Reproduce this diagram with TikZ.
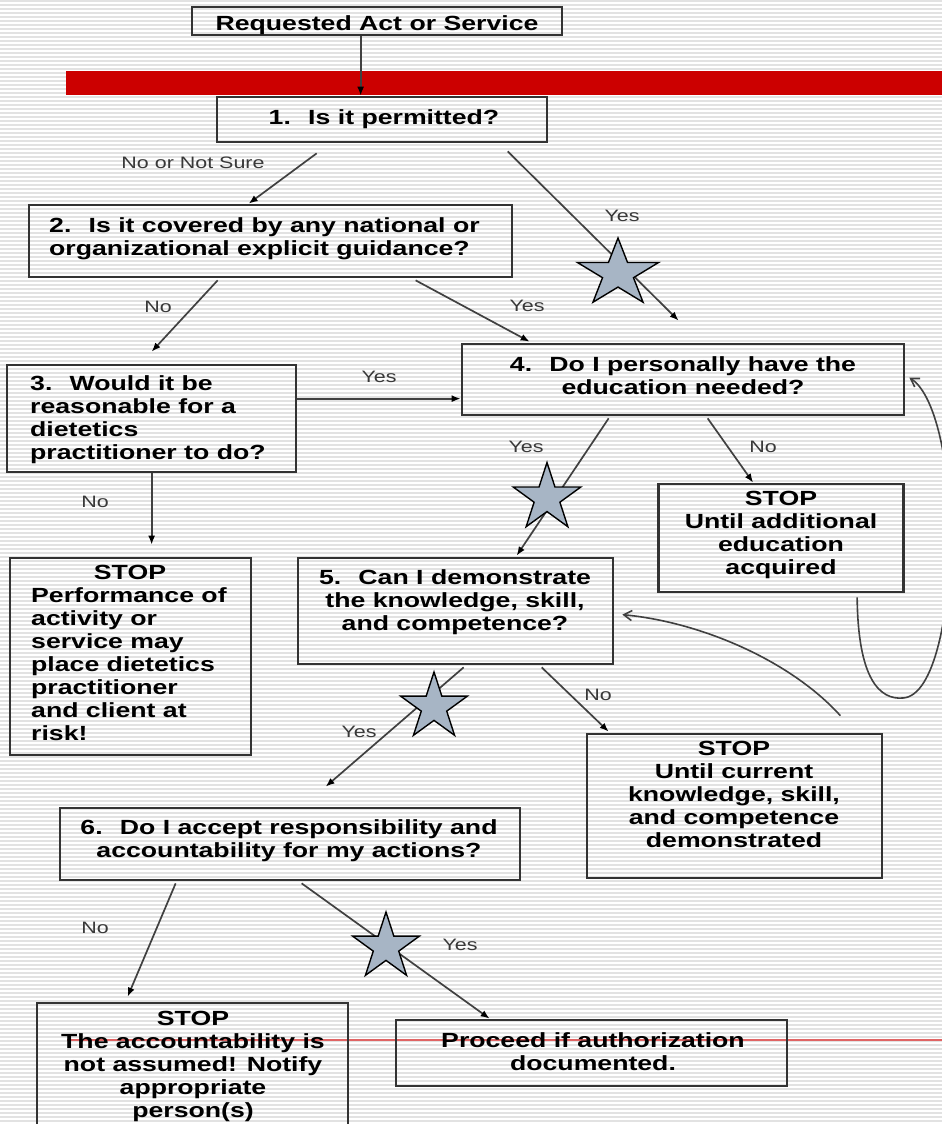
\documentclass[tikz,border=0pt]{standalone}
\usepackage{fontspec}
\setmainfont{Liberation Sans}[FakeStretch=1.3]
\usetikzlibrary{arrows.meta,shapes.geometric,calc}
\definecolor{barred}{RGB}{204,0,0}
\definecolor{linered}{RGB}{224,100,100}
\definecolor{starfill}{RGB}{167,181,197}
\definecolor{stripe}{RGB}{226,226,226}
\begin{document}
\begin{tikzpicture}[x=1pt,y=-1pt,
  box/.style={draw=black!80, line width=2.7pt, inner sep=0pt},
  txt/.style={font=\fontsize{20.5}{23}\selectfont\bfseries, inner sep=0pt, align=center, text=black},
  txtl/.style={txt, align=left},
  lbl/.style={font=\fontsize{16.5}{19}\selectfont, inner sep=0pt, text=black!78},
  arr/.style={draw=black!75, line width=1.7pt, -{Latex[length=9pt,width=7pt,color=black]}},
  curv/.style={draw=black!75, line width=1.6pt, -{Straight Barb[length=8pt,width=10pt]}},
  starn/.style={star, star points=5, star point ratio=2.618, draw=black, fill=starfill, line width=1.4pt, inner sep=0pt}
]
\useasboundingbox (0,0) rectangle (942,1124);
\begin{scope}
\clip (0,0) rectangle (942,1124);
\fill[white] (0,0) rectangle (942,1124);
\foreach \yy in {1,5,...,1124} \draw[stripe, line width=1.6pt] (0,\yy) -- (942,\yy);
\fill[barred] (66,71) rectangle (942,95);
\draw[linered, line width=1.8pt] (67,1040) -- (942,1040);

% boxes
\node[box, minimum width=370, minimum height=28] (b0) at (377,21) {};
\node[box, minimum width=330, minimum height=45] (b1) at (382,119.5) {};
\node[box, minimum width=483, minimum height=72] (b2) at (270.5,241) {};
\node[box, minimum width=289, minimum height=107] (b3) at (151.5,418.5) {};
\node[box, minimum width=442, minimum height=71] (b4) at (683,379.5) {};
\node[box, minimum width=241, minimum height=197] (s1) at (130.5,656.5) {};
\node[box, minimum width=245, minimum height=108] (s2) at (781,538) {};
\node[box, minimum width=315, minimum height=106] (b5) at (455.5,611) {};
\node[box, minimum width=295, minimum height=144] (s3) at (734.5,806) {};
\node[box, minimum width=460, minimum height=72] (b6) at (290,844) {};
\node[box, minimum width=311, minimum height=132] (s4) at (192.5,1069) {};
\node[box, minimum width=391, minimum height=66] (b7) at (591.5,1053) {};

% texts
\node[txt, anchor=north] (t0) at (377,15) {Requested Act or Service};
\node[txt, anchor=north] (t1) at (384,109.5) {1.~ Is it permitted?};
\node[txtl, anchor=north west] (t2) at (49,217.5) {2.~ Is it covered by any national or\\organizational explicit guidance?};
\node[txtl, anchor=north west] (t3) at (30,375.5) {3.~ Would it be\\reasonable for a\\dietetics\\practitioner to do?};
\node[txt, anchor=north] (t4) at (683,356.5) {4.~ Do I personally have the\\education needed?};
\node[txt, anchor=north] (t5a) at (130,564.5) {STOP};
\node[txtl, anchor=north west] (t5b) at (31,587.5) {Performance of\\activity or\\service may\\place dietetics\\practitioner\\and client at\\risk!};
\node[txt, anchor=north] (t6) at (781,490.5) {STOP\\Until additional\\education\\acquired};
\node[txt, anchor=north] (t7) at (455,569.5) {5.~ Can I demonstrate\\the knowledge, skill,\\and competence?};
\node[txt, anchor=north] (t8) at (734,740.5) {STOP\\Until current\\knowledge, skill,\\and competence\\demonstrated};
\node[txt, anchor=north] (t9) at (289,819.5) {6.~ Do I accept responsibility and\\accountability for my actions?};
\node[txt, anchor=north] (t10) at (193,1010.5) {STOP\\The accountability is\\not assumed! Notify\\appropriate\\person(s)};
\node[txt, anchor=north] (t11) at (593,1032.5) {Proceed if authorization\\documented.};

% labels
\node[lbl] (l1) at (193,163) {No or Not Sure};
\node[lbl] (l2) at (622,216) {Yes};
\node[lbl] (l3) at (158,307) {No};
\node[lbl] (l4) at (527,306) {Yes};
\node[lbl] (l5) at (379,377) {Yes};
\node[lbl] (l6) at (526,447) {Yes};
\node[lbl] (l7) at (763,447) {No};
\node[lbl] (l8) at (95,502) {No};
\node[lbl] (l9) at (598,695) {No};
\node[lbl] (l10) at (359,732) {Yes};
\node[lbl] (l11) at (95,928) {No};
\node[lbl] (l12) at (460,945) {Yes};

% connectors
\draw[arr] ([xshift=170pt]b0.south west) -- ([xshift=145pt]b1.north west);
\draw[arr] ([shift={(101,10)}]b1.south west) -- ([shift={(221,0)}]b2.north west);
\draw[arr] ([shift={(292,8)}]b1.south west) -- ([shift={(218,-22)}]b4.north west);
\draw[arr] ([shift={(190,2)}]b2.south west) -- ([shift={(146,-12)}]b3.north west);
\draw[arr] ([shift={(388,2)}]b2.south west) -- ([shift={(69,-1)}]b4.north west);
\draw[arr] ([shift={(0,35)}]b3.north east) -- ([shift={(0,56)}]b4.north west);
\draw[arr] ([shift={(146,0)}]b3.south west) -- ([shift={(143,-12)}]s1.north west);
\draw[arr] ([shift={(148,2)}]b4.south west) -- ([shift={(220,-1)}]b5.north west);
\draw[arr] ([shift={(247,2)}]b4.south west) -- ([shift={(96,0)}]s2.north west);
\draw[arr] ([shift={(245,2)}]b5.south west) -- ([shift={(23,-1)}]s3.north west);
\draw[arr] ([shift={(167,2)}]b5.south west) -- ([shift={(267,-20)}]b6.north west);
\draw[arr] ([shift={(117,2)}]b6.south west) -- ([shift={(92,-5)}]s4.north west);
\draw[arr] ([shift={(243,2)}]b6.south west) -- ([shift={(95,0)}]b7.north west);
\draw[curv] ([shift={(200,4)}]s2.south west) .. controls (858,680) and (880,700) .. (903,698)
   .. controls (935,696) and (950,610) .. (950,540)
   .. controls (950,450) and (932,392) .. ([shift={(4,35)}]b4.north east);
\draw[curv] ([shift={(-43,-17)}]s3.north east) .. controls (790,660) and (700,622) .. ([shift={(8,58)}]b5.north east);

% stars
\node[starn, minimum size=71pt, xscale=1.2] (st1) at (618,273.5) {};
\node[starn, minimum size=71pt] (st2) at (547,498) {};
\node[starn, minimum size=70pt] (st3) at (434,707) {};
\node[starn, minimum size=70pt] (st4) at (386,947) {};
\end{scope}
\end{tikzpicture}
\end{document}
